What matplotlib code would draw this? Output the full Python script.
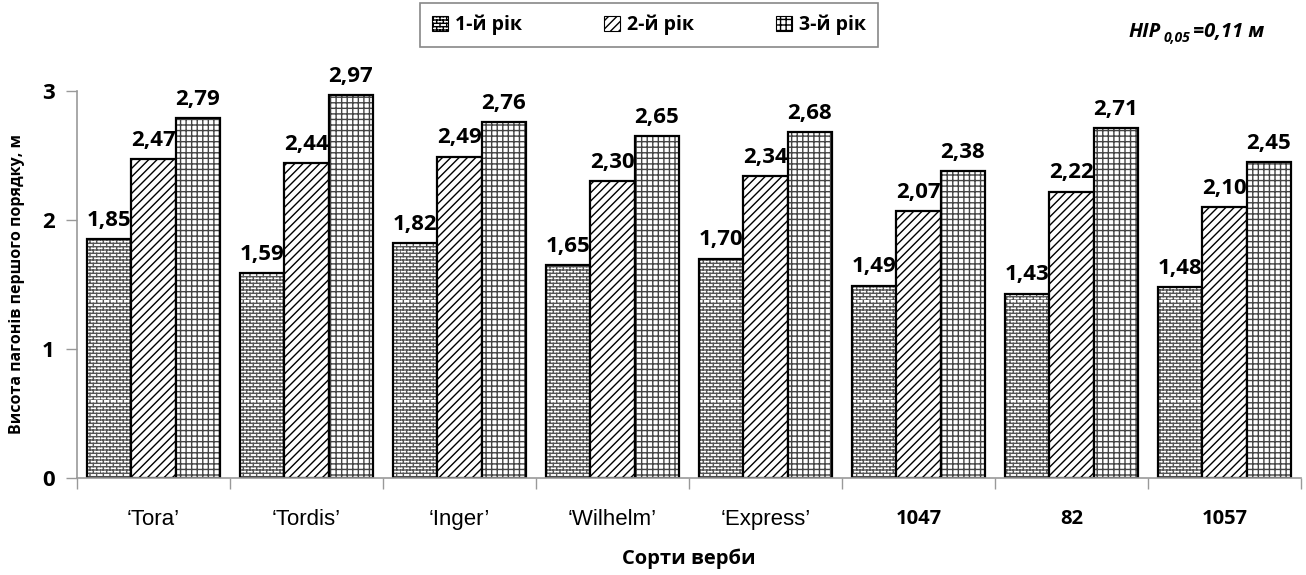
import warnings
import numpy as np
import matplotlib
matplotlib.use('Agg')
import matplotlib.pyplot as plt
import matplotlib.hatch as mhatch
from matplotlib.patches import Patch

warnings.filterwarnings('ignore', message='hatch must consist')

# data
varieties = ["\u2018Tora\u2019", "\u2018Tordis\u2019", "\u2018Inger\u2019", "\u2018Wilhelm\u2019",
             "\u2018Express\u2019", "1047", "82", "1057"]
year1 = [1.85, 1.59, 1.82, 1.65, 1.70, 1.49, 1.43, 1.48]
year2 = [2.47, 2.44, 2.49, 2.30, 2.34, 2.07, 2.22, 2.10]
year3 = [2.79, 2.97, 2.76, 2.65, 2.68, 2.38, 2.71, 2.45]
series_names = ['1-й рік', '2-й рік', '3-й рік']


# brick hatch, triggered by 'b'
class BrickHatch(mhatch.HatchPatternBase):
    def __init__(self, hatch, density):
        k = hatch.count('b')
        self.rows = 30 * k
        self.cols = 15 * k
        self.num_vertices = (self.rows * 2 + self.rows * self.cols * 2) if k else 0

    def set_vertices_and_codes(self, vertices, codes):
        v = []
        for i in range(self.rows):
            y0 = i / self.rows
            y1 = (i + 1) / self.rows
            v += [(0, y0), (1, y0)]
            for j in range(self.cols):
                x = (j + 0.5 * (i % 2)) / self.cols
                v += [(x, y0), (x, y1)]
        vertices[:] = np.array(v)
        codes[0::2] = mhatch.Path.MOVETO
        codes[1::2] = mhatch.Path.LINETO


mhatch._hatch_types.append(BrickHatch)

plt.rcParams['font.family'] = ['Open Sans', 'DejaVu Sans']
plt.rcParams['hatch.linewidth'] = 1.0

fig = plt.figure(figsize=(13.06, 5.75), dpi=100)
ax = fig.add_axes([77 / 1306, 97 / 575, 1224 / 1306, 387 / 575])

x = np.arange(len(varieties))
w = 0.288
hatches = ['b', '////', '+++']
hcolors = ['#555555', 'black', '#444444']
data = [year1, year2, year3]

for k, vals in enumerate(data):
    pos = x + (k - 1) * w
    ax.bar(pos, vals, w, color='white', edgecolor=hcolors[k], hatch=hatches[k], linewidth=0)
    ax.bar(pos, vals, w, fill=False, edgecolor='black', linewidth=1.6)
    for p, v in zip(pos, vals):
        ax.annotate(f'{v:.2f}'.replace('.', ','), (p, v), xytext=(0, 6),
                    textcoords='offset points', ha='center', va='bottom',
                    fontsize=16, fontweight='bold', annotation_clip=False)

ax.set_xlim(-0.5, len(varieties) - 0.5)
ax.set_ylim(0, 3)
ax.set_yticks([0, 1, 2, 3])
ax.set_yticklabels(['0', '1', '2', '3'], fontsize=16, fontweight='bold')
ax.tick_params(axis='y', length=8, color='#999999', width=1, pad=8)

ax.set_xticks(np.arange(-0.5, len(varieties)), minor=False)
ax.set_xticklabels([])
ax.set_xticks(x, minor=True)
ax.set_xticklabels(varieties, minor=True)
ax.tick_params(axis='x', which='major', length=8, color='#999999', width=1)
ax.tick_params(axis='x', which='minor', length=0, pad=22)
for i, lab in enumerate(ax.get_xticklabels(minor=True)):
    if i < 5:
        lab.set_fontfamily('Liberation Sans')
        lab.set_fontsize(16)
    else:
        lab.set_fontsize(14.5)
        lab.set_fontweight('bold')

for s in ['top', 'right']:
    ax.spines[s].set_visible(False)
for s in ['left', 'bottom']:
    ax.spines[s].set_color('#999999')
    ax.spines[s].set_linewidth(1.2)

ax.set_ylabel('Висота пагонів першого порядку, м', fontsize=11.5, fontweight='bold', labelpad=12)
ax.set_xlabel('Сорти верби', fontsize=14.5, fontweight='bold', labelpad=14)

handles = [Patch(facecolor='white', edgecolor='black', hatch=h, linewidth=0.8) for h in hatches]
leg = fig.legend(handles, series_names, loc='center', bbox_to_anchor=(649 / 1306, 1 - 25 / 575),
                 ncol=3, fancybox=False, framealpha=1, edgecolor='#888888',
                 prop={'weight': 'bold', 'size': 14}, handlelength=0.85, handleheight=0.85,
                 handletextpad=0.35, columnspacing=4.2, borderpad=0.6)
leg.get_frame().set_linewidth(1.2)

fig.text(1161 / 1306, 1 - 32 / 575, 'HIP', ha='right', va='center', fontsize=14.5,
         fontweight='bold', style='italic')
fig.text(1164 / 1306, 1 - 38 / 575, '0,05', ha='left', va='center', fontsize=10,
         fontweight='bold', style='italic')
fig.text(1193 / 1306, 1 - 32 / 575, '=0,11 м', ha='left', va='center', fontsize=14.5,
         fontweight='bold', style='italic')

fig.savefig('out.png', dpi=100)
